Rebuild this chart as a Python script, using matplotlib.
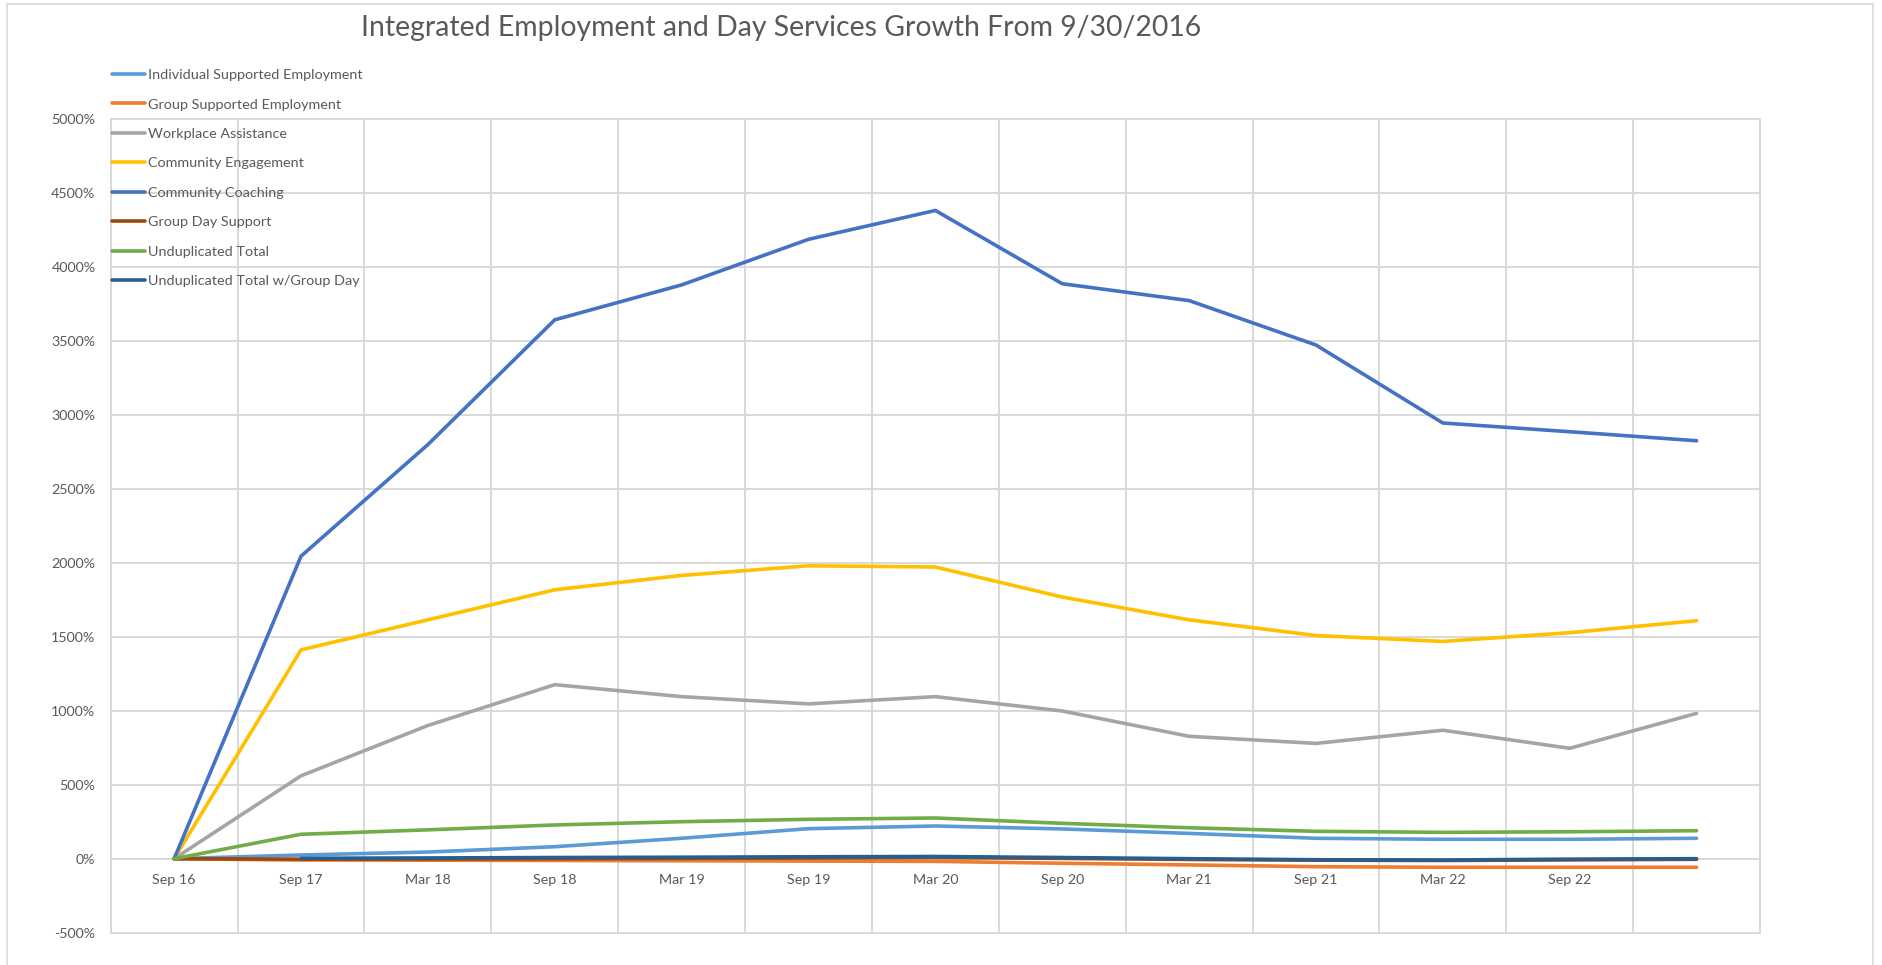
import numpy as np
import matplotlib
matplotlib.use("Agg")
import matplotlib.pyplot as plt
from matplotlib.patches import Rectangle

plt.rcParams['font.family'] = ['Lato', 'DejaVu Sans']

# categories (last half-year point has no label in the source)
periods = ["Sep 16", "Sep 17", "Mar 18", "Sep 18", "Mar 19", "Sep 19", "Mar 20",
           "Sep 20", "Mar 21", "Sep 21", "Mar 22", "Sep 22", ""]

# growth in % since 9/30/2016
individual_se = [0, 25, 45, 81, 138, 203, 221, 201, 171, 138, 131, 131, 138]
group_se = [0, -9, -10, -12, -14, -16, -18, -31, -42, -54, -58, -58, -58]
workplace_assist = [0, 560, 900, 1176, 1095, 1046, 1095, 998, 827, 779, 868, 746, 982]
community_engage = [0, 1411, 1614, 1817, 1914, 1979, 1971, 1768, 1614, 1508, 1468, 1527, 1608]
community_coach = [0, 2044, 2798, 3641, 3877, 4185, 4380, 3885, 3771, 3471, 2944, 2885, 2824]
group_day = [0, -3, -2, 0, 2, 5, 8, 2, -5, -10, -12, -8, -4]
undup_total = [0, 165, 195, 228, 250, 266, 275, 239, 209, 185, 178, 182, 189]
undup_total_gd = [np.nan, 3, 5, 8, 10, 13, 15, 8, 0, -7, -9, -3, 0]

series = [
    ("Individual Supported Employment", individual_se, "#5B9BD5"),
    ("Group Supported Employment", group_se, "#ED7D31"),
    ("Workplace Assistance", workplace_assist, "#A5A5A5"),
    ("Community Engagement", community_engage, "#FFC000"),
    ("Community Coaching", community_coach, "#4472C4"),
    ("Group Day Support", group_day, "#9E480E"),
    ("Unduplicated Total", undup_total, "#70AD47"),
    ("Unduplicated Total w/Group Day", undup_total_gd, "#255E91"),
]

W, H = 1883, 965
fig = plt.figure(figsize=(W / 100, H / 100), dpi=100)
grid_c = "#D9D9D9"
text_c = "#595959"

# outer chart border
fig.add_artist(Rectangle((7 / W, -0.05), 1866 / W, 1.05 - 4 / H, transform=fig.transFigure,
                         fill=False, edgecolor=grid_c, lw=1.2))

ax = fig.add_axes([110.7 / W, 32.3 / H, (1760 - 110.7) / W, (932.7 - 118.7) / H])
x = np.arange(len(periods))
for name, vals, col in series:
    ax.plot(x, vals, color=col, lw=2.6, label=name, solid_capstyle='round',
            solid_joinstyle='round')

ax.set_xlim(-0.5, len(periods) - 0.5)
ax.set_ylim(-500, 5000)
ax.set_yticks(np.arange(-500, 5001, 500))
ax.set_yticklabels([f"{v}%" for v in range(-500, 5001, 500)])
ax.set_xticks(x)
ax.set_xticklabels(periods)
ax.set_xticks(np.arange(-0.5, len(periods), 1), minor=True)

for s in ax.spines.values():
    s.set_visible(False)
ax.spines['bottom'].set_position(('data', 0))
ax.add_patch(Rectangle((0, 0), 1, 1, transform=ax.transAxes, fill=False,
                       edgecolor=grid_c, lw=1.4, clip_on=False, zorder=0))
ax.grid(axis='y', which='major', color=grid_c, lw=1.4)
ax.grid(axis='x', which='minor', color=grid_c, lw=1.4)
ax.set_axisbelow(True)
ax.tick_params(axis='both', which='both', length=0, labelsize=10.3, colors=text_c)
ax.tick_params(axis='x', pad=11)
ax.tick_params(axis='y', pad=11)

fig.text(781 / W, 1 - 28 / H, "Integrated Employment and Day Services Growth From 9/30/2016",
         ha='center', va='center', fontsize=20.4, color=text_c)

leg = fig.legend(loc='upper left', bbox_to_anchor=(112 / W, 1 - 69 / H), frameon=False,
                 fontsize=10.4, handlelength=2.3, handletextpad=0.2, labelspacing=1.2,
                 borderpad=0, borderaxespad=0)
for t in leg.get_texts():
    t.set_color(text_c)

fig.savefig("out.png", dpi=100)
